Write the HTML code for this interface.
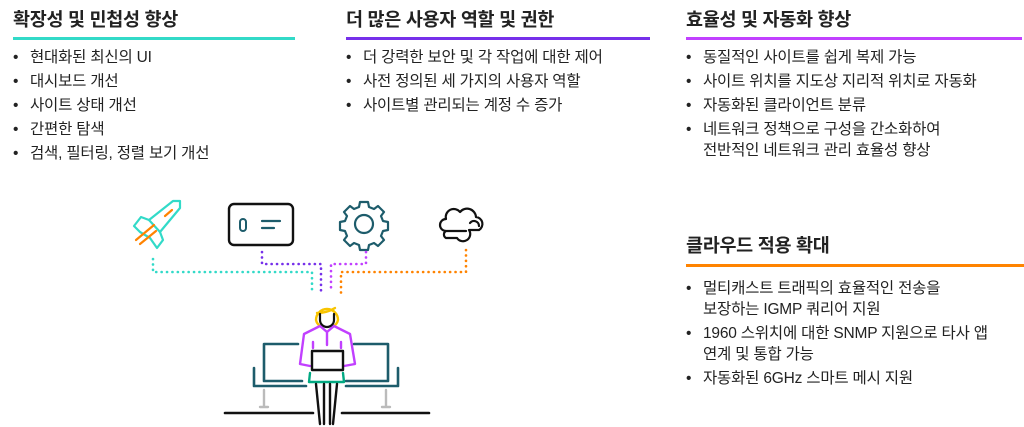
<!DOCTYPE html>
<html><head><meta charset="utf-8"><style>
body{margin:0;width:1024px;height:427px;background:#fff;position:relative;overflow:hidden;font-family:"Liberation Sans","Noto Sans CJK KR",sans-serif;color:#222}
.t{position:absolute;font-size:18.5px;font-weight:bold;line-height:22px;letter-spacing:-0.3px}
.bar{position:absolute;height:3px}
ul{position:absolute;margin:0;padding:0;list-style:none;font-size:15.5px;line-height:21px;letter-spacing:-0.2px}
li{position:relative;padding-left:17px;margin-bottom:3px}
li:before{content:"•";position:absolute;left:0;top:0}
</style></head><body>
<div class="t" style="left:13px;top:9px">확장성 및 민첩성 향상</div>
<div class="bar" style="left:13px;top:37px;width:282px;background:#32dac8"></div>
<ul style="left:13px;top:47px"><li>현대화된 최신의 UI</li><li>대시보드 개선</li><li>사이트 상태 개선</li><li>간편한 탐색</li><li>검색, 필터링, 정렬 보기 개선</li></ul>

<div class="t" style="left:346px;top:9px">더 많은 사용자 역할 및 권한</div>
<div class="bar" style="left:346px;top:37px;width:304px;background:#7630ea"></div>
<ul style="left:346px;top:47px"><li>더 강력한 보안 및 각 작업에 대한 제어</li><li>사전 정의된 세 가지의 사용자 역할</li><li>사이트별 관리되는 계정 수 증가</li></ul>

<div class="t" style="left:686px;top:9px">효율성 및 자동화 향상</div>
<div class="bar" style="left:686px;top:37px;width:336px;background:#c140ff"></div>
<ul style="left:686px;top:47px"><li>동질적인 사이트를 쉽게 복제 가능</li><li>사이트 위치를 지도상 지리적 위치로 자동화</li><li>자동화된 클라이언트 분류</li><li>네트워크 정책으로 구성을 간소화하여<br>전반적인 네트워크 관리 효율성 향상</li></ul>

<div class="t" style="left:686px;top:235px">클라우드 적용 확대</div>
<div class="bar" style="left:686px;top:264px;width:338px;background:#ff8300"></div>
<ul style="left:686px;top:278px"><li>멀티캐스트 트래픽의 효율적인 전송을<br>보장하는 IGMP 쿼리어 지원</li><li>1960 스위치에 대한 SNMP 지원으로 타사 앱<br>연계 및 통합 가능</li><li>자동화된 6GHz 스마트 메시 지원</li></ul>

<svg width="1024" height="427" style="position:absolute;left:0;top:0" fill="none" stroke-linecap="round" stroke-linejoin="round">
<g stroke="#32dac8" stroke-width="2.2">
<path d="M180 201 L180 208 L160 232 L163 240 L157 248 L150 238 L140 232 L134 226 L141 217 L149 220 L173 201 Z"/>
<path d="M149 220 L160 232"/>
</g>
<g stroke="#ff8300" stroke-width="2.2"><path d="M136 240 L154 225"/><path d="M140 244 L156 231"/><path d="M165 216 L172 210"/></g>
<rect x="229" y="204" width="64" height="41" rx="5" stroke="#111" stroke-width="2.4"/>
<rect x="240" y="219" width="6" height="12" rx="3" stroke="#1d5c6b" stroke-width="2"/>
<path d="M262 221 H280 M262 228 H274" stroke="#1d5c6b" stroke-width="2.2"/>
<g stroke="#1d5c6b" stroke-width="2.2">
<circle cx="364" cy="224" r="9"/>
<path d="M360 202 h8 l1 5 l5 2 l4-3 l6 6 l-3 4 l2 5 l5 1 v8 l-5 1 l-2 5 l3 4 l-6 6 l-4-3 l-5 2 l-1 5 h-8 l-1-5 l-5-2 l-4 3 l-6-6 l3-4 l-2-5 l-5-1 v-8 l5-1 l2-5 l-3-4 l6-6 l4 3 l5-2 z"/>
</g>
<path d="M446 231 a6 6 0 0 1 0-12 a8 8 0 0 1 14-7 a9 9 0 0 1 16 5 a7 7 0 0 1 3 13 h-10 a7 7 0 0 1-12 8 h-11 a4 4 0 0 1 0-7 h20 M470 223 a5 5 0 0 1 9 3" stroke="#111" stroke-width="2.2"/>
<g stroke-width="2.6" stroke-dasharray="0.1 5.3">
<path d="M153 259 V272 H312 V294" stroke="#32dac8"/>
<path d="M262 252 V264 H321 V291" stroke="#7630ea"/>
<path d="M366 252 V264 H331 V291" stroke="#c140ff"/>
<path d="M466 250 V272 H341 V294" stroke="#ff8300"/>
</g>
<g stroke="#1d5c6b" stroke-width="2.6">
<path d="M298 344 H264 V381 H302 M354 344 H388 V381 H346"/>
<path d="M254 368 V386 H306 M398 368 V386 H346"/>
</g>
<path d="M264 390 V407 M386 390 V407 M260 407 H268 M382 407 H390" stroke="#bbb" stroke-width="2.4"/>
<path d="M225 413 H313 M342 413 H429" stroke="#111" stroke-width="2.6"/>
<path d="M316 320 a11 11 0 1 1 22 0 a10 10 0 0 1-4 6 M316 320 a10 10 0 0 0 4 6 M317 313 q10 0 18-5" stroke="#f8c400" stroke-width="2.4"/>
<path d="M320 314 V320 a7 7 0 0 0 14 0 V314" stroke="#111" stroke-width="2.2"/>
<path d="M320 326 L304 334 L300 364 L310 366 M334 326 L350 334 L355 364 L344 366 M320 326 L327 332 L334 326 M327 332 V345 M313 342 V348 M341 342 V348" stroke="#c140ff" stroke-width="2.4"/>
<rect x="312" y="351" width="31" height="19" stroke="#111" stroke-width="2.4"/>
<path d="M310 373 L309 382 H344 L343 373" stroke="#01a982" stroke-width="2.4"/>
<path d="M316 384 L320 424 M324 384 V424 M330 384 V424 M337 384 L333 424" stroke="#111" stroke-width="2.4"/>
</svg>
</body></html>
